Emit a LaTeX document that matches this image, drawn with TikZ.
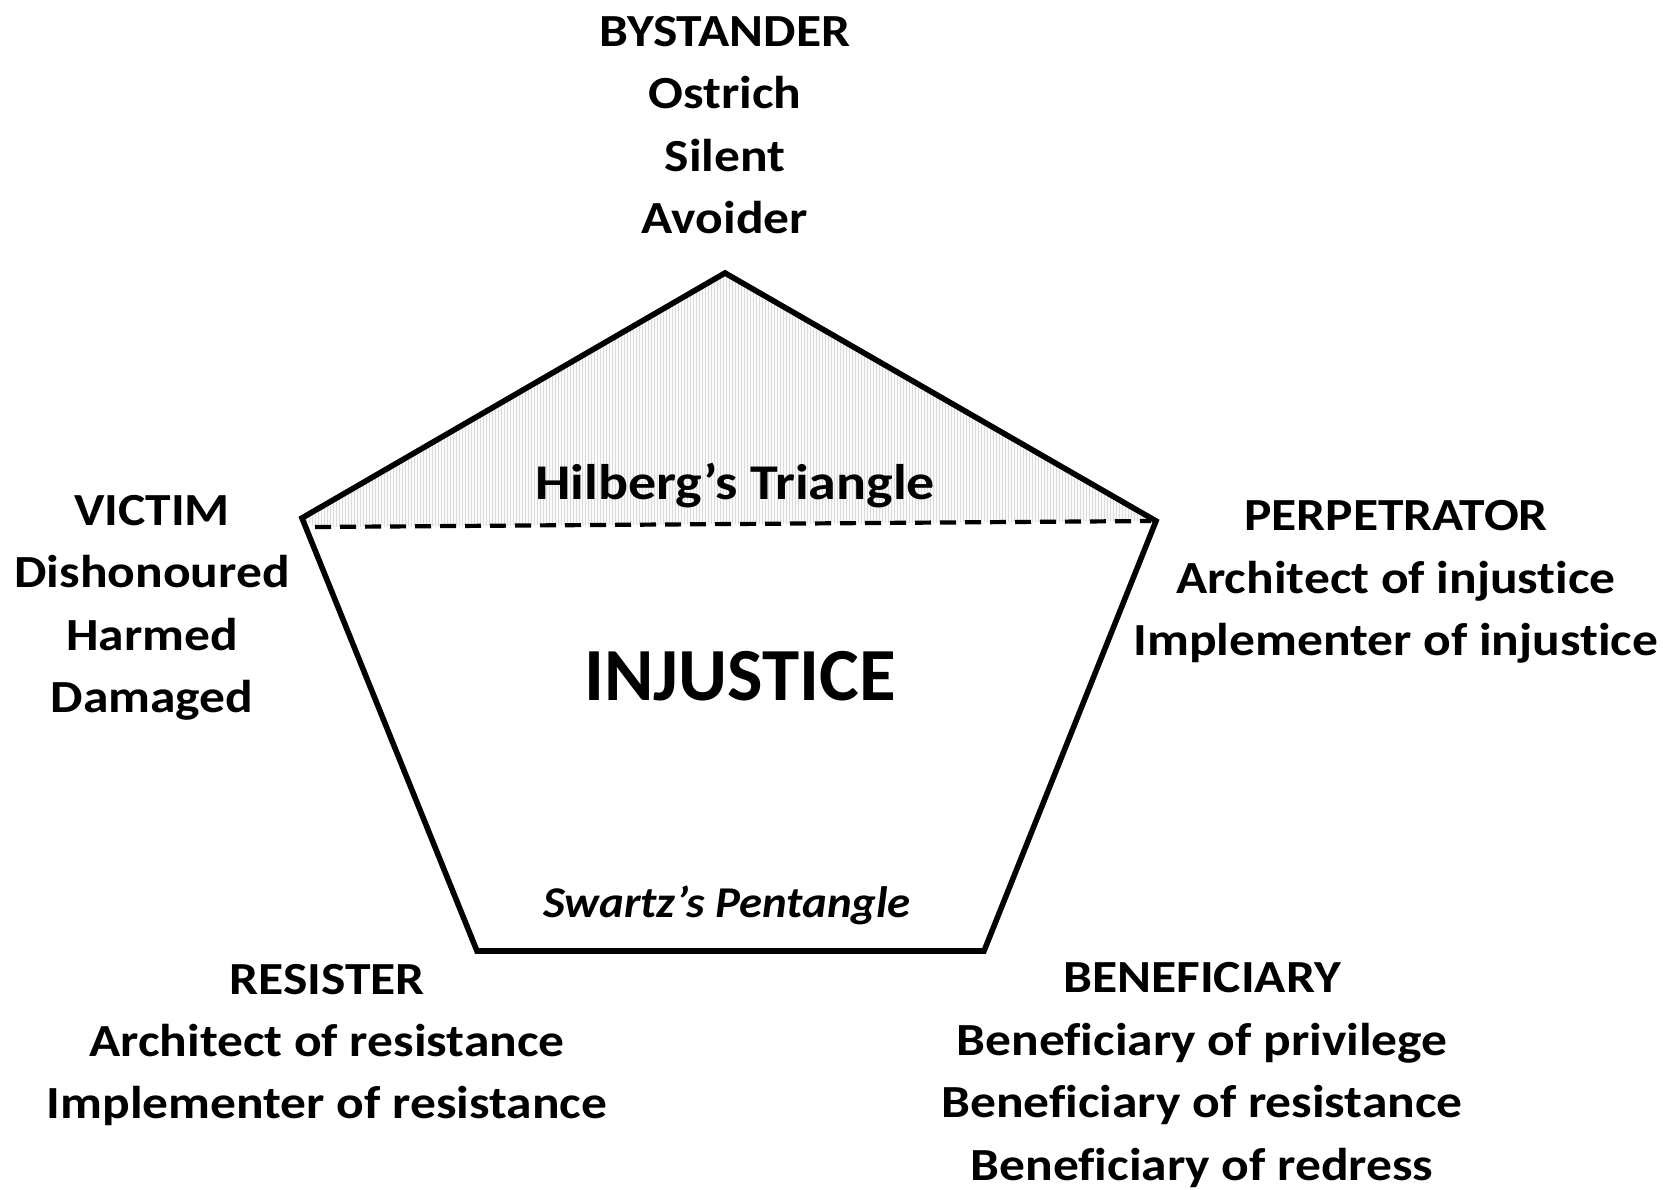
\documentclass[tikz,border=0pt]{standalone}
\usepackage{fontspec}
\setmainfont{Carlito}[FakeStretch=1.12,RawFeature={-liga;-clig;-dlig}]
\newfontfamily\plainfam{Carlito}[RawFeature={-liga;-clig;-dlig}]
\newfontfamily\swfam{Carlito}[FakeStretch=1.065,RawFeature={-liga;-clig;-dlig}]
\begin{document}
\begin{tikzpicture}[x=0.5pt,y=-0.5pt,
  lbl/.style={align=center,inner sep=0pt,font=\fontsize{23}{31.2}\selectfont\bfseries},
  pent/.style={line width=2.8pt,line join=miter},
  dash line/.style={line width=2.1pt,dash pattern=on 8pt off 4.5pt}]
\useasboundingbox (0,0) rectangle (1663,1189);
\fill[white] (0,0) rectangle (1663,1189);
% vertices
\coordinate (T) at (725,273);
\coordinate (L) at (302,518);
\coordinate (R) at (1156,521);
\coordinate (BL) at (477,951);
\coordinate (BR) at (984,951);
\coordinate (DL) at (315,527);
\coordinate (DR) at (1151,521);
% hatched triangle
\begin{scope}
\clip (T) -- (L) -- (DL) -- (DR) -- (R) -- cycle;
\fill[black!2] (300,260) rectangle (1160,530);
\foreach \i in {300,303,...,1160} \draw[black!14,line width=0.25pt] (\i,260) -- (\i,530);
\end{scope}
\draw[pent] (T) -- (R) -- (BR) -- (BL) -- (L) -- cycle;
\draw[dash line] (DL) -- (DR);
% texts
\node[lbl] (bys) at (725,125) {BYSTANDER\\Ostrich\\Silent\\Avoider};
\node[lbl] (vic) at (152,608) {VICTIM\\Dishonoured\\Harmed\\Damaged};
\node[lbl] (per) at (1396,582) {PERPETRATOR\\Architect of injustice\\Implementer of injustice};
\node[lbl] (res) at (327,1045) {RESISTER\\Architect of resistance\\Implementer of resistance};
\node[lbl] (ben) at (1202,1075) {BENEFICIARY\\Beneficiary of privilege\\Beneficiary of resistance\\Beneficiary of redress};
\node[lbl,font=\fontsize{25}{30}\selectfont\bfseries] (hil) at (735,486) {Hilberg’s Triangle};
\node[lbl,font=\plainfam\fontsize{37.5}{45}\selectfont\bfseries] (inj) at (740,676) {INJUSTICE};
\node[lbl,font=\swfam\fontsize{22}{26}\selectfont\bfseries\itshape] (swa) at (727,905) {Swartz’s Pentangle};
\end{tikzpicture}
\end{document}
